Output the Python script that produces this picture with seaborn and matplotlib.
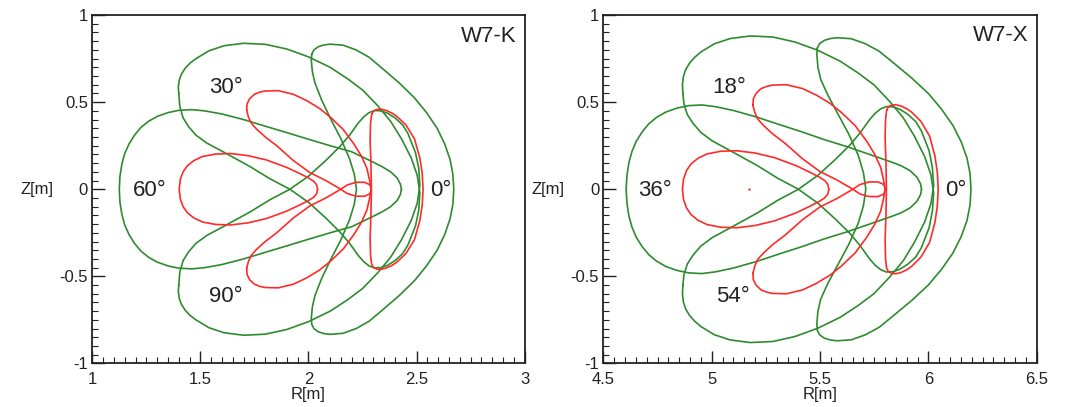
import matplotlib
matplotlib.use("Agg")
import matplotlib.pyplot as plt
from matplotlib.ticker import MultipleLocator, FormatStrFormatter
import seaborn as sns

sns.set_style("white")
plt.rcParams["font.family"] = ["Liberation Sans", "DejaVu Sans"]
plt.rcParams["axes.unicode_minus"] = False

GREEN = "#2e8b2e"
RED = "#ff2a2a"
TXT = "#222222"

# ---------------- W7-K (R, Z in m) ----------------
# outer surface (green)
k_lcfs_0_r = [2.015, 2.025, 2.045, 2.07, 2.10, 2.16, 2.22, 2.28, 2.345, 2.42, 2.49, 2.546, 2.595, 2.63, 2.655,
              2.668, 2.672, 2.668, 2.655, 2.63, 2.595, 2.546, 2.49, 2.42, 2.345, 2.28, 2.22, 2.16, 2.10, 2.07,
              2.045, 2.025, 2.015, 2.013, 2.018, 2.03, 2.06, 2.10, 2.15, 2.19, 2.212, 2.222, 2.212, 2.19, 2.15,
              2.10, 2.06, 2.03, 2.018, 2.013, 2.015]
k_lcfs_0_z = [0.775, 0.80, 0.818, 0.828, 0.833, 0.827, 0.80, 0.758, 0.69, 0.61, 0.525, 0.44, 0.35, 0.26, 0.17,
              0.085, 0.0, -0.085, -0.17, -0.26, -0.35, -0.44, -0.525, -0.61, -0.69, -0.758, -0.80, -0.827, -0.833,
              -0.828, -0.818, -0.80, -0.775, -0.74, -0.675, -0.61, -0.515, -0.41, -0.29, -0.175, -0.085, 0.0,
              0.085, 0.175, 0.29, 0.41, 0.515, 0.61, 0.675, 0.74, 0.775]

k_lcfs_30_r = [1.40, 1.398, 1.402, 1.412, 1.43, 1.453, 1.48, 1.54, 1.61, 1.70, 1.80, 1.90, 2.00, 2.10, 2.18,
               2.25, 2.32, 2.38, 2.43, 2.475, 2.503, 2.515, 2.51, 2.495, 2.46, 2.435, 2.40, 2.365, 2.335, 2.305,
               2.28, 2.255, 2.23, 2.19, 2.145, 2.08, 2.00, 1.914, 1.822, 1.73, 1.62, 1.53, 1.48, 1.445, 1.42,
               1.405, 1.40]
k_lcfs_30_z = [0.55, 0.585, 0.625, 0.66, 0.695, 0.725, 0.75, 0.795, 0.824, 0.838, 0.832, 0.805, 0.76, 0.70, 0.635,
               0.57, 0.48, 0.39, 0.29, 0.18, 0.08, -0.02, -0.12, -0.21, -0.32, -0.37, -0.41, -0.437, -0.45, -0.452,
               -0.44, -0.415, -0.38, -0.31, -0.245, -0.165, -0.075, 0.0, 0.06, 0.13, 0.205, 0.265, 0.31, 0.36,
               0.41, 0.475, 0.55]

k_lcfs_60_r = [2.43, 2.425, 2.41, 2.38, 2.34, 2.30, 2.20, 2.10, 2.00, 1.90, 1.80, 1.70, 1.60, 1.52, 1.46, 1.40,
               1.35, 1.30, 1.26, 1.225, 1.195, 1.17, 1.15, 1.137, 1.128, 1.125, 1.128, 1.137, 1.15, 1.17, 1.195,
               1.225, 1.26, 1.30, 1.35, 1.40, 1.46, 1.52, 1.60, 1.70, 1.80, 1.90, 2.00, 2.10, 2.20, 2.30, 2.34,
               2.38, 2.41, 2.425, 2.43]
k_lcfs_60_z = [0.0, 0.03, 0.065, 0.10, 0.13, 0.155, 0.215, 0.25, 0.287, 0.325, 0.362, 0.40, 0.432, 0.45, 0.457,
               0.453, 0.44, 0.418, 0.39, 0.355, 0.31, 0.26, 0.205, 0.145, 0.075, 0.0, -0.075, -0.145, -0.205, -0.26,
               -0.31, -0.355, -0.39, -0.418, -0.44, -0.453, -0.457, -0.45, -0.432, -0.40, -0.362, -0.325, -0.287,
               -0.25, -0.215, -0.155, -0.13, -0.10, -0.065, -0.03, 0.0]

k_lcfs_90_r = [1.40, 1.398, 1.402, 1.412, 1.43, 1.453, 1.48, 1.54, 1.61, 1.70, 1.80, 1.90, 2.00, 2.10, 2.18,
               2.25, 2.32, 2.38, 2.43, 2.475, 2.503, 2.515, 2.51, 2.495, 2.46, 2.435, 2.40, 2.365, 2.335, 2.305,
               2.28, 2.255, 2.23, 2.19, 2.145, 2.08, 2.00, 1.914, 1.822, 1.73, 1.62, 1.53, 1.48, 1.445, 1.42,
               1.405, 1.40]
k_lcfs_90_z = [-0.55, -0.585, -0.625, -0.66, -0.695, -0.725, -0.75, -0.795, -0.824, -0.838, -0.832, -0.805, -0.76,
               -0.70, -0.635, -0.57, -0.48, -0.39, -0.29, -0.18, -0.08, 0.02, 0.12, 0.21, 0.32, 0.37, 0.41, 0.437,
               0.45, 0.452, 0.44, 0.415, 0.38, 0.31, 0.245, 0.165, 0.075, 0.0, -0.06, -0.13, -0.205, -0.265, -0.31,
               -0.36, -0.41, -0.475, -0.55]

# inner surface (red)
k_in_0_r = [2.292, 2.30, 2.315, 2.335, 2.36, 2.385, 2.407, 2.45, 2.49, 2.515, 2.526, 2.53, 2.526, 2.515, 2.49,
            2.45, 2.407, 2.385, 2.36, 2.335, 2.315, 2.30, 2.292, 2.287, 2.285, 2.289, 2.291, 2.289, 2.285, 2.287,
            2.292]
k_in_0_z = [0.43, 0.448, 0.458, 0.46, 0.452, 0.438, 0.42, 0.37, 0.29, 0.18, 0.09, 0.0, -0.09, -0.18, -0.29,
            -0.37, -0.42, -0.438, -0.452, -0.46, -0.458, -0.448, -0.43, -0.38, -0.28, -0.14, 0.0, 0.14, 0.28,
            0.38, 0.43]

k_in_30_r = [1.714, 1.716, 1.728, 1.75, 1.775, 1.80, 1.86, 1.93, 1.99, 2.05, 2.10, 2.16, 2.21, 2.245, 2.27,
             2.283, 2.29, 2.285, 2.26, 2.22, 2.18, 2.145, 2.08, 2.006, 1.93, 1.853, 1.80, 1.76, 1.735, 1.722, 1.714]
k_in_30_z = [0.455, 0.49, 0.52, 0.545, 0.558, 0.564, 0.566, 0.545, 0.51, 0.465, 0.415, 0.344, 0.26, 0.19, 0.12,
             0.05, 0.0, -0.025, -0.04, -0.04, -0.025, 0.003, 0.05, 0.096, 0.165, 0.25, 0.30, 0.345, 0.38, 0.415,
             0.455]

k_in_60_r = [2.042, 2.038, 2.025, 2.00, 1.96, 1.90, 1.806, 1.72, 1.64, 1.57, 1.51, 1.47, 1.44, 1.42, 1.407,
             1.402, 1.407, 1.42, 1.44, 1.47, 1.51, 1.57, 1.64, 1.72, 1.806, 1.90, 1.96, 2.00, 2.025, 2.038, 2.042]
k_in_60_z = [0.0, 0.025, 0.045, 0.065, 0.09, 0.125, 0.168, 0.193, 0.205, 0.202, 0.188, 0.165, 0.135, 0.10, 0.055,
             0.0, -0.055, -0.10, -0.135, -0.165, -0.188, -0.202, -0.205, -0.193, -0.168, -0.125, -0.09, -0.065,
             -0.045, -0.025, 0.0]

k_in_90_r = [1.714, 1.716, 1.728, 1.75, 1.775, 1.80, 1.86, 1.93, 1.99, 2.05, 2.10, 2.16, 2.21, 2.245, 2.27,
             2.283, 2.29, 2.285, 2.26, 2.22, 2.18, 2.145, 2.08, 2.006, 1.93, 1.853, 1.80, 1.76, 1.735, 1.722, 1.714]
k_in_90_z = [-0.455, -0.49, -0.52, -0.545, -0.558, -0.564, -0.566, -0.545, -0.51, -0.465, -0.415, -0.344, -0.26,
             -0.19, -0.12, -0.05, 0.0, 0.025, 0.04, 0.04, 0.025, -0.003, -0.05, -0.096, -0.165, -0.25, -0.30,
             -0.345, -0.38, -0.415, -0.455]

# ---------------- W7-X (R, Z in m) ----------------
x_lcfs_0_r = [5.487, 5.498, 5.520, 5.547, 5.579, 5.644, 5.708, 5.773, 5.843, 5.924, 6.000, 6.060, 6.113, 6.151,
              6.178, 6.192, 6.196, 6.192, 6.178, 6.151, 6.113, 6.060, 6.000, 5.924, 5.843, 5.773, 5.708, 5.644,
              5.579, 5.547, 5.520, 5.498, 5.487, 5.485, 5.490, 5.503, 5.536, 5.579, 5.633, 5.676, 5.700, 5.711,
              5.700, 5.676, 5.633, 5.579, 5.536, 5.503, 5.490, 5.485, 5.487]
x_lcfs_0_z = [0.810, 0.836, 0.855, 0.865, 0.870, 0.864, 0.836, 0.792, 0.721, 0.637, 0.549, 0.460, 0.366, 0.272,
              0.178, 0.089, 0.0, -0.089, -0.178, -0.272, -0.366, -0.460, -0.549, -0.637, -0.721, -0.792, -0.836,
              -0.864, -0.870, -0.865, -0.855, -0.836, -0.810, -0.773, -0.70, -0.63, -0.54, -0.44, -0.315, -0.195,
              -0.095, 0.0, 0.095, 0.195, 0.315, 0.44, 0.54, 0.63, 0.70, 0.773, 0.810]

x_lcfs_18_r = [4.867, 4.865, 4.869, 4.879, 4.898, 4.922, 4.950, 5.012, 5.085, 5.178, 5.282, 5.385, 5.489, 5.593,
               5.676, 5.749, 5.821, 5.884, 5.935, 5.982, 6.011, 6.024, 6.018, 6.003, 5.967, 5.941, 5.904, 5.868,
               5.837, 5.806, 5.780, 5.754, 5.728, 5.686, 5.640, 5.572, 5.489, 5.400, 5.305, 5.209, 5.095, 5.002,
               4.950, 4.914, 4.887, 4.872, 4.867]
x_lcfs_18_z = [0.55, 0.60, 0.645, 0.685, 0.725, 0.758, 0.788, 0.835, 0.865, 0.880, 0.874, 0.845, 0.798, 0.735,
               0.667, 0.599, 0.504, 0.410, 0.305, 0.189, 0.084, -0.021, -0.126, -0.221, -0.336, -0.389, -0.431,
               -0.459, -0.473, -0.475, -0.462, -0.436, -0.399, -0.326, -0.257, -0.173, -0.079, 0.0, 0.063, 0.137,
               0.215, 0.278, 0.326, 0.378, 0.43, 0.49, 0.55]

x_lcfs_36_r = [5.968, 5.963, 5.947, 5.916, 5.874, 5.832, 5.728, 5.623, 5.519, 5.415, 5.310, 5.206, 5.101, 5.018,
               4.955, 4.893, 4.840, 4.788, 4.746, 4.710, 4.679, 4.652, 4.632, 4.618, 4.609, 4.605, 4.609, 4.618,
               4.632, 4.652, 4.679, 4.710, 4.746, 4.788, 4.840, 4.893, 4.955, 5.018, 5.101, 5.206, 5.310, 5.415,
               5.519, 5.623, 5.728, 5.832, 5.874, 5.916, 5.947, 5.963, 5.968]
x_lcfs_36_z = [0.0, 0.032, 0.069, 0.106, 0.135, 0.155, 0.20, 0.245, 0.285, 0.33, 0.372, 0.415, 0.452, 0.474,
               0.484, 0.480, 0.466, 0.443, 0.413, 0.376, 0.329, 0.276, 0.217, 0.154, 0.080, 0.0, -0.080, -0.154,
               -0.217, -0.276, -0.329, -0.376, -0.413, -0.443, -0.466, -0.480, -0.484, -0.474, -0.452, -0.415,
               -0.372, -0.33, -0.285, -0.245, -0.20, -0.155, -0.135, -0.106, -0.069, -0.032, 0.0]

x_lcfs_54_r = [4.867, 4.865, 4.869, 4.879, 4.898, 4.922, 4.950, 5.012, 5.085, 5.178, 5.282, 5.385, 5.489, 5.593,
               5.676, 5.749, 5.821, 5.884, 5.935, 5.982, 6.011, 6.024, 6.018, 6.003, 5.967, 5.941, 5.904, 5.868,
               5.837, 5.806, 5.780, 5.754, 5.728, 5.686, 5.640, 5.572, 5.489, 5.400, 5.305, 5.209, 5.095, 5.002,
               4.950, 4.914, 4.887, 4.872, 4.867]
x_lcfs_54_z = [-0.55, -0.60, -0.645, -0.685, -0.725, -0.758, -0.788, -0.835, -0.865, -0.880, -0.874, -0.845,
               -0.798, -0.735, -0.667, -0.599, -0.504, -0.410, -0.305, -0.189, -0.084, 0.021, 0.126, 0.221, 0.336,
               0.389, 0.431, 0.459, 0.473, 0.475, 0.462, 0.436, 0.399, 0.326, 0.257, 0.173, 0.079, 0.0, -0.063,
               -0.137, -0.215, -0.278, -0.326, -0.378, -0.43, -0.49, -0.55]

x_in_0_r = [5.807, 5.815, 5.830, 5.850, 5.875, 5.900, 5.922, 5.965, 6.005, 6.030, 6.041, 6.045, 6.041, 6.030,
            6.005, 5.965, 5.922, 5.900, 5.875, 5.850, 5.830, 5.815, 5.807, 5.802, 5.800, 5.804, 5.806, 5.804,
            5.800, 5.802, 5.807]
x_in_0_z = [0.454, 0.473, 0.483, 0.485, 0.477, 0.462, 0.443, 0.390, 0.306, 0.190, 0.095, 0.0, -0.095, -0.190,
            -0.306, -0.390, -0.443, -0.462, -0.477, -0.485, -0.483, -0.473, -0.454, -0.401, -0.295, -0.148, 0.0,
            0.148, 0.295, 0.401, 0.454]

x_in_18_r = [5.190, 5.192, 5.205, 5.228, 5.255, 5.281, 5.345, 5.419, 5.482, 5.546, 5.599, 5.662, 5.715, 5.752,
             5.779, 5.793, 5.800, 5.795, 5.768, 5.726, 5.684, 5.647, 5.578, 5.499, 5.419, 5.337, 5.281, 5.239,
             5.212, 5.199, 5.190]
x_in_18_z = [0.482, 0.519, 0.551, 0.578, 0.591, 0.598, 0.600, 0.578, 0.541, 0.493, 0.440, 0.365, 0.276, 0.201,
             0.127, 0.053, 0.0, -0.027, -0.042, -0.042, -0.027, 0.003, 0.053, 0.102, 0.175, 0.265, 0.318, 0.366,
             0.403, 0.440, 0.482]

x_in_36_r = [5.540, 5.536, 5.522, 5.496, 5.454, 5.390, 5.291, 5.201, 5.116, 5.042, 4.979, 4.937, 4.905, 4.884,
             4.870, 4.865, 4.870, 4.884, 4.905, 4.937, 4.979, 5.042, 5.116, 5.201, 5.291, 5.390, 5.454, 5.496,
             5.522, 5.536, 5.540]
x_in_36_z = [0.0, 0.027, 0.049, 0.070, 0.097, 0.135, 0.181, 0.208, 0.221, 0.218, 0.203, 0.178, 0.146, 0.108,
             0.059, 0.0, -0.059, -0.108, -0.146, -0.178, -0.203, -0.218, -0.221, -0.208, -0.181, -0.135, -0.097,
             -0.070, -0.049, -0.027, 0.0]

x_in_54_r = [5.190, 5.192, 5.205, 5.228, 5.255, 5.281, 5.345, 5.419, 5.482, 5.546, 5.599, 5.662, 5.715, 5.752,
             5.779, 5.793, 5.800, 5.795, 5.768, 5.726, 5.684, 5.647, 5.578, 5.499, 5.419, 5.337, 5.281, 5.239,
             5.212, 5.199, 5.190]
x_in_54_z = [-0.482, -0.519, -0.551, -0.578, -0.591, -0.598, -0.600, -0.578, -0.541, -0.493, -0.440, -0.365,
             -0.276, -0.201, -0.127, -0.053, 0.0, 0.027, 0.042, 0.042, 0.027, -0.003, -0.053, -0.102, -0.175,
             -0.265, -0.318, -0.366, -0.403, -0.440, -0.482]

# small red speck (axis mark) in the W7-X panel
x_axis_r = [5.17]
x_axis_z = [0.0]

# angle labels: (text, R, Z)
k_labels = [("30°", 1.617, 0.585), ("60°", 1.266, -0.01), ("90°", 1.617, -0.617), ("0°", 2.61, -0.01)]
x_labels = [("18°", 5.079, 0.585), ("36°", 4.738, -0.01), ("54°", 5.098, -0.614), ("0°", 6.124, -0.01)]


def draw(ax, r, z, color):
    sns.lineplot(x=r, y=z, ax=ax, sort=False, estimator=None, color=color, lw=1.2)


def style(ax, xlim):
    ax.set_xlim(*xlim)
    ax.set_ylim(-1, 1)
    ax.xaxis.set_major_locator(MultipleLocator(0.5))
    ax.xaxis.set_minor_locator(MultipleLocator(0.05))
    ax.yaxis.set_major_locator(MultipleLocator(0.5))
    ax.yaxis.set_minor_locator(MultipleLocator(0.05))
    ax.xaxis.set_major_formatter(FormatStrFormatter("%g"))
    ax.yaxis.set_major_formatter(FormatStrFormatter("%g"))
    ax.tick_params(which="both", direction="in", bottom=True, left=True, top=False, right=False,
                   color="#222222", labelcolor=TXT, labelsize=12)
    ax.tick_params(which="major", length=9, width=1)
    ax.tick_params(which="minor", length=4.5, width=0.8)
    ax.tick_params(axis="x", pad=6)
    ax.tick_params(axis="y", pad=3)
    for s in ax.spines.values():
        s.set_color("#222222")
        s.set_linewidth(1.3)
    ax.set_xlabel("R[m]", fontsize=12, color=TXT, labelpad=0)
    ax.set_ylabel("Z[m]", fontsize=12, color=TXT, rotation=0, ha="right", va="center")
    ax.yaxis.set_label_coords(-0.09, 0.5)


fig = plt.figure(figsize=(10.73, 4.07), dpi=100)
ax_k = fig.add_axes([0.086, 0.107, 0.403, 0.856])
ax_x = fig.add_axes([0.5623, 0.107, 0.404, 0.856])

# W7-K
for r, z in [(k_lcfs_0_r, k_lcfs_0_z), (k_lcfs_30_r, k_lcfs_30_z),
             (k_lcfs_60_r, k_lcfs_60_z), (k_lcfs_90_r, k_lcfs_90_z)]:
    draw(ax_k, r, z, GREEN)
for r, z in [(k_in_0_r, k_in_0_z), (k_in_30_r, k_in_30_z),
             (k_in_60_r, k_in_60_z), (k_in_90_r, k_in_90_z)]:
    draw(ax_k, r, z, RED)

# W7-X
for r, z in [(x_lcfs_0_r, x_lcfs_0_z), (x_lcfs_18_r, x_lcfs_18_z),
             (x_lcfs_36_r, x_lcfs_36_z), (x_lcfs_54_r, x_lcfs_54_z)]:
    draw(ax_x, r, z, GREEN)
for r, z in [(x_in_0_r, x_in_0_z), (x_in_18_r, x_in_18_z),
             (x_in_36_r, x_in_36_z), (x_in_54_r, x_in_54_z)]:
    draw(ax_x, r, z, RED)
sns.scatterplot(x=x_axis_r, y=x_axis_z, ax=ax_x, s=3, color=RED, linewidth=0)

style(ax_k, (1, 3))
style(ax_x, (4.5, 6.5))

for t, r, z in k_labels:
    ax_k.text(r, z, t, fontsize=16, color=TXT, ha="center", va="center")
for t, r, z in x_labels:
    ax_x.text(r, z, t, fontsize=16, color=TXT, ha="center", va="center")
ax_k.text(2.96, 0.875, "W7-K", fontsize=16, color=TXT, ha="right", va="center")
ax_x.text(6.46, 0.885, "W7-X", fontsize=16, color=TXT, ha="right", va="center")

fig.savefig("out.png", dpi=100)
